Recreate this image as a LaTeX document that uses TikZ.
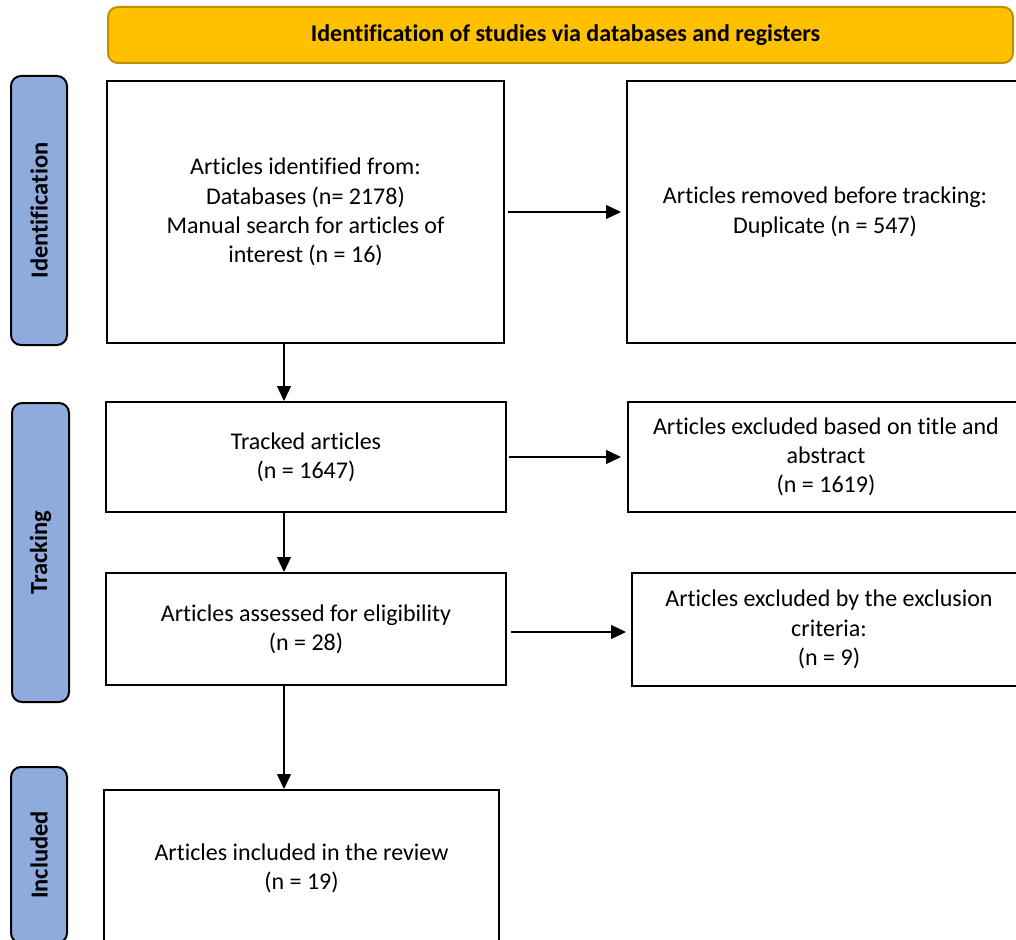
\documentclass[tikz,border=0pt]{standalone}
\usepackage{fontspec}
\setmainfont{Carlito}[Ligatures={NoCommon,NoRare,NoContextual}]
\usetikzlibrary{positioning,arrows.meta,calc}
\definecolor{prismagold}{HTML}{FFC000}
\definecolor{prismagoldline}{HTML}{BF9000}
\definecolor{stageblue}{HTML}{8FAADC}

\begin{document}
\begin{tikzpicture}[
    x=1pt, y=-1pt,
    every node/.style={font=\fontsize{24}{29.3}\selectfont, inner sep=0pt},
    headerbar/.style={draw=prismagoldline, fill=prismagold, line width=2pt, rounded corners=10pt, font=\fontsize{24}{29}\selectfont\bfseries},
    stagelabel/.style={draw=black, fill=stageblue, line width=2pt, rounded corners=10pt, rotate=90, font=\fontsize{24.5}{29}\selectfont\bfseries},
    recordbox/.style={draw=black, line width=2pt, align=center},
    flowarrow/.style={-{Triangle[length=15pt,width=14pt]}, line width=1.3pt}
]
    \useasboundingbox (0,0) rectangle (1016,939);
    \clip (0,0) rectangle (1016,939);

    % header and stage labels
    \node[headerbar, minimum width=905pt, minimum height=56pt] (banner) at (560.5,35) {\hspace*{10pt}Identification of studies via databases and registers};
    \node[stagelabel, minimum width=269pt, minimum height=56pt] (identlabel) at (39,210.5) {Identification};
    \node[stagelabel, minimum width=299pt, minimum height=57pt] (tracklabel) at (40.5,552.5) {Tracking};
    \node[stagelabel, minimum width=176pt, minimum height=56pt] (inclabel) at (39,855) {Included};

    % records
    \node[recordbox, minimum width=397pt, minimum height=262pt] (identified) at (305.5,212) {Articles identified from:\\Databases (n= 2178)\\Manual search for articles of\\interest (n = 16)};
    \node[recordbox, minimum width=396pt, minimum height=262pt] (duplicates) at (825,212) {Articles removed before tracking:\\Duplicate (n = 547)};
    \node[recordbox, minimum width=400pt, minimum height=110pt] (tracked) at (306,457) {Tracked articles\\(n = 1647)};
    \node[recordbox, minimum width=396pt, minimum height=110pt] (titleexcl) at (826,457) {Articles excluded based on title and\\abstract\\(n = 1619)};
    \node[recordbox, minimum width=400pt, minimum height=112pt] (eligible) at (306,629) {Articles assessed for eligibility\\(n = 28)};
    \node[recordbox, minimum width=394pt, minimum height=113pt] (criteriaexcl) at (829,629.5) {Articles excluded by the exclusion\\criteria:\\(n = 9)};
    \node[recordbox, minimum width=395pt, minimum height=156pt] (included) at (301.5,868) {Articles included in the review\\(n = 19)};

    % arrows
    \coordinate (spine) at (284,0);
    \draw[flowarrow] ([xshift=3pt]identified.east) -- ([xshift=-5pt]duplicates.west);
    \draw[flowarrow] (identified.south -| spine) -- (tracked.north -| spine);
    \draw[flowarrow] ([xshift=2pt]tracked.east) -- ([xshift=-6pt]titleexcl.west);
    \draw[flowarrow] (tracked.south -| spine) -- (eligible.north -| spine);
    \draw[flowarrow] ([shift={(4pt,-3pt)}]eligible.east) -- ([shift={(-5pt,-2.5pt)}]criteriaexcl.west);
    \draw[flowarrow] (eligible.south -| spine) -- (included.north -| spine);
\end{tikzpicture}
\end{document}
